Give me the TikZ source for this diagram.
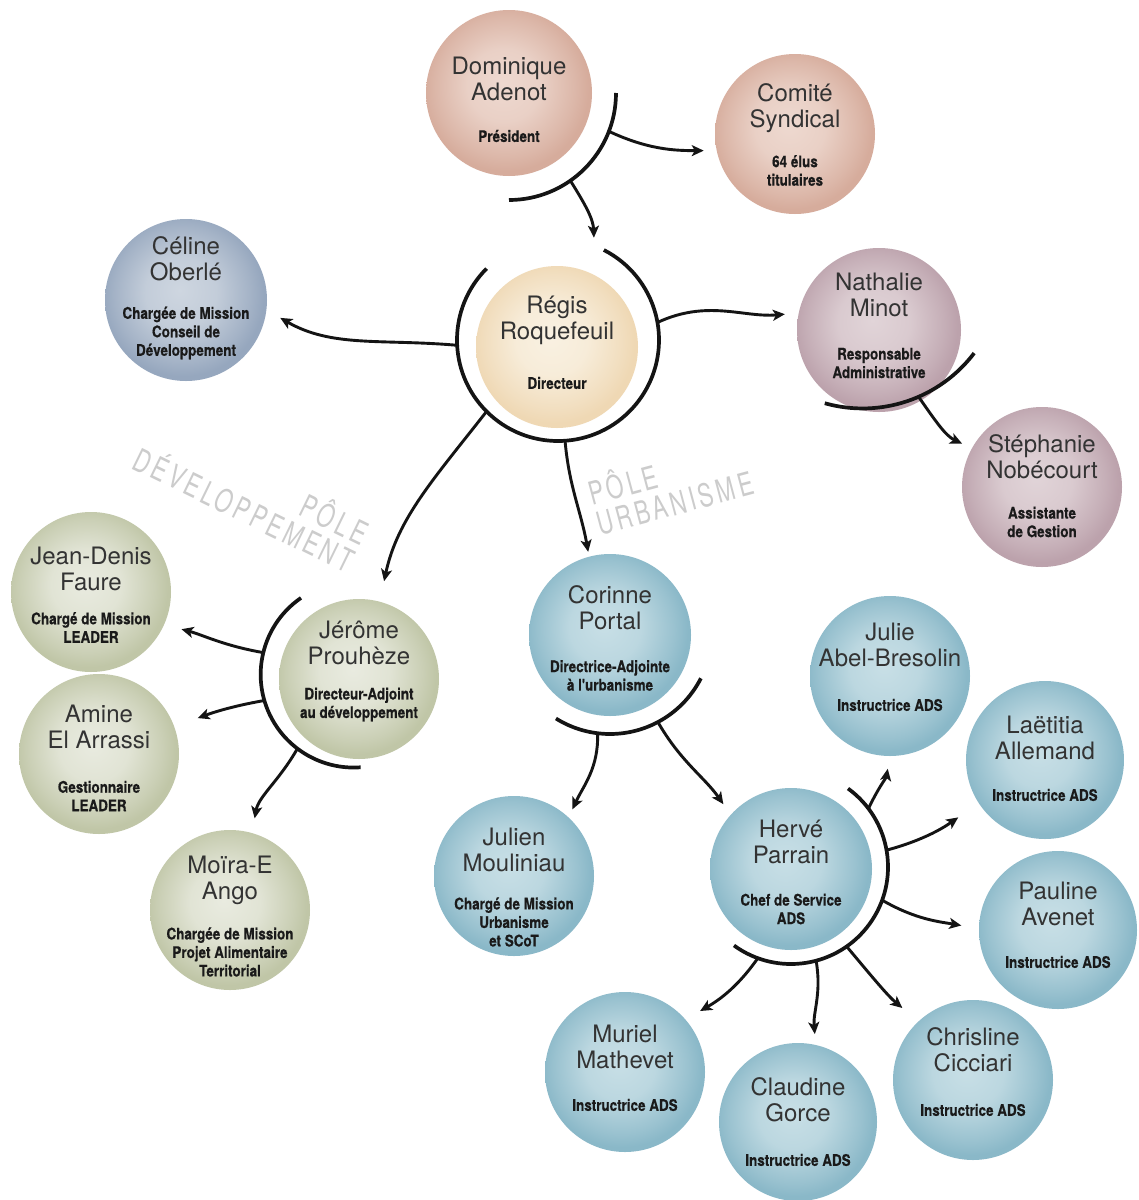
\documentclass[tikz,border=0pt]{standalone}
\usepackage{fontspec}
\usepackage{graphicx}
\usetikzlibrary{arrows.meta}
\setmainfont{TeX Gyre Heros}
\newfontfamily\heros{TeX Gyre Heros}
\newfontfamily\heroscond{TeX Gyre Heros}[FakeStretch=0.84,FakeBold=0.5]
\newfontfamily\polefont{TeX Gyre Heros}[FakeStretch=0.7,LetterSpace=11]

\definecolor{namegray}{HTML}{333333}
\definecolor{rolegray}{HTML}{1A1A1A}
\definecolor{peachIn}{HTML}{EED9D0}
\definecolor{peachOut}{HTML}{D6AC9C}
\definecolor{steelIn}{HTML}{CED6E0}
\definecolor{steelOut}{HTML}{96A7BE}
\definecolor{creamIn}{HTML}{F9F1E2}
\definecolor{creamOut}{HTML}{EFD8B4}
\definecolor{mauveIn}{HTML}{E1D4D8}
\definecolor{mauveOut}{HTML}{BCA2AC}
\definecolor{oliveIn}{HTML}{E9EBE0}
\definecolor{oliveOut}{HTML}{C0C6A7}
\definecolor{aquaIn}{HTML}{C8DFE6}
\definecolor{aquaOut}{HTML}{8AB8C8}

\newcommand\mkshade[3]{\pgfdeclareradialshading{#1}{\pgfpoint{-2bp}{3bp}}{color(0bp)=(#2); color(11bp)=(#2!80!#3); color(21bp)=(#3!75!#2); color(25bp)=(#3); color(50bp)=(#3)}}
\mkshade{shpeach}{peachIn}{peachOut}
\mkshade{shsteel}{steelIn}{steelOut}
\mkshade{shcream}{creamIn}{creamOut}
\mkshade{shmauve}{mauveIn}{mauveOut}
\mkshade{sholive}{oliveIn}{oliveOut}
\mkshade{shaqua}{aquaIn}{aquaOut}

% id, x, y, diameter, shading, name, name y, role, role y
\newcommand\pers[9]{%
  \node[persn, minimum size=#4pt, shading=#5] (#1) at (#2,#3) {};
  \node[nm] (#1-n) at (#2,#7) {#6};
  \node[rl] (#1-r) at (#2,#9) {#8};
}

\begin{document}
\begin{tikzpicture}[x=1pt,y=-1pt,
  persn/.style={circle,inner sep=0pt,outer sep=0pt},
  ringn/.style={circle,inner sep=0pt,outer sep=0pt,draw=none},
  nm/.style={font={\heros\fontsize{24}{26}\selectfont}, text=namegray, align=center, inner sep=0pt},
  rl/.style={font={\heroscond\bfseries\fontsize{16}{18.5}\selectfont}, text=rolegray, align=center, inner sep=0pt},
  arcl/.style={line width=3.7pt, draw=black!92},
  arr/.style={line width=2.9pt, draw=black!92, -{Stealth[length=12pt,width=11pt,inset=3pt]}, shorten >=#1pt},
  arr/.default=0,
  pole/.style={font={\polefont\fontsize{32}{31}\selectfont}, text=black!20, inner sep=0pt}
]
\fill[white] (0,0) rectangle (1139,1200);
\useasboundingbox (0,0) rectangle (1139,1200);

% pole labels
\node[pole, align=right, rotate=-26] (poledev) at (252,494) {PÔLE\\DÉVELOPPEMENT};
\node[pole, align=left, rotate=15] (poleurb) at (670,486) {PÔLE\\URBANISME};

% people
\pers{dom}{509}{93}{166}{shpeach}{Dominique\\Adenot}{79}{Président}{136}
\pers{com}{795}{134}{160}{shpeach}{Comité\\Syndical}{108}{64 élus\\titulaires}{170.5}
\pers{cel}{186}{300}{162}{shsteel}{Céline\\Oberlé}{258.5}{Chargée de Mission\\Conseil de\\Développement}{333}
\pers{reg}{557}{347}{162}{shcream}{Régis\\Roquefeuil}{320.5}{Directeur}{383}
\pers{nat}{879}{330}{164}{shmauve}{Nathalie\\Minot}{295}{Responsable\\Administrative}{363}
\pers{ste}{1042}{487}{160}{shmauve}{Stéphanie\\Nobécourt}{457}{Assistante\\de Gestion}{522}
\pers{jd}{91}{592}{160}{sholive}{Jean-Denis\\Faure}{569}{Chargé de Mission\\LEADER}{627.5}
\pers{ami}{99}{754}{160}{sholive}{Amine\\El Arrassi}{726.5}{Gestionnaire\\LEADER}{796}
\pers{moi}{230}{910}{160}{sholive}{Moïra-E\\Ango}{880}{Chargée de Mission\\Projet Alimentaire\\Territorial}{952}
\pers{jer}{359}{679}{160}{sholive}{Jérôme\\Prouhèze}{642.5}{Directeur-Adjoint\\au développement}{704.5}
\pers{cor}{610}{635}{162}{shaqua}{Corinne\\Portal}{608}{Directrice-Adjointe\\à l'urbanisme}{675.5}
\pers{jul}{514}{876}{160}{shaqua}{Julien\\Mouliniau}{849.5}{Chargé de Mission\\Urbanisme\\et SCoT}{922}
\pers{her}{791}{869}{162}{shaqua}{Hervé\\Parrain}{841.5}{Chef de Service\\ADS}{909}
\pers{jab}{890}{676}{160}{shaqua}{Julie\\Abel-Bresolin}{645}{Instructrice ADS}{705}
\pers{lae}{1045}{760}{158}{shaqua}{Laëtitia\\Allemand}{737.5}{Instructrice ADS}{795}
\pers{pau}{1058}{930}{158}{shaqua}{Pauline\\Avenet}{903.5}{Instructrice ADS}{962}
\pers{mur}{625}{1072}{160}{shaqua}{Muriel\\Mathevet}{1046.5}{Instructrice ADS}{1105}
\pers{cla}{798}{1122}{158}{shaqua}{Claudine\\Gorce}{1099.5}{Instructrice ADS}{1160}
\pers{chr}{973}{1080}{160}{shaqua}{Chrisline\\Cicciari}{1050}{Instructrice ADS}{1110}

% rings (invisible guides for arcs)
\node[ringn, minimum size=214pt] (domR) at (509,93) {};
\node[ringn, minimum size=202pt] (regR) at (558,340) {};
\node[ringn, minimum size=280pt] (natR) at (861,268) {};
\node[ringn, minimum size=186pt] (jerR) at (353,675) {};
\node[ringn, minimum size=204pt] (corR) at (610,632) {};
\node[ringn, minimum size=194pt] (herR) at (791,867) {};

% arcs
\draw[arcl] (domR.-90) arc[start angle=-90, end angle=0, radius=107pt];
\draw[arcl] (regR.135) arc[start angle=135, end angle=423, radius=101pt];
\draw[arcl] (natR.-105.7) arc[start angle=-105.7, end angle=-37.2, radius=140pt];
\draw[arcl] (jerR.124.5) arc[start angle=124.5, end angle=274.3, radius=93pt];
\draw[arcl] (corR.-122) arc[start angle=-122, end angle=-27, radius=102pt];
\draw[arcl] (herR.-126) arc[start angle=-126, end angle=54, radius=97pt];

% connectors
\draw[arr=13] (domR.-21) to[out=-25,in=180] (com.192);
\draw[arr=8] (domR.-55) to[out=-58,in=92] (regR.69);
\draw[arr=16] (regR.183) to[out=175,in=-30] (cel.-7);
\draw[arr=14] (regR.10) to[out=25,in=185] (nat.168);
\draw[arr=21] (regR.225) to[out=232,in=78] (jer.75);
\draw[arr=5] (regR.-86) to[out=-85,in=100] (cor.105);
\draw[arr=11] (natR.-66) to[out=-55,in=155] (ste.151);
\draw[arr=18] (jerR.166) to[out=170,in=-15] (jd.-24);
\draw[arr=25] (jerR.196) to[out=190,in=20] (ami.20);
\draw[arr=15] (jerR.233) to[out=240,in=80] (moi.74);
\draw[arr=9] (corR.-97) to[out=-88,in=65] (jul.47);
\draw[arr=13] (corR.-62) to[out=-60,in=125] (her.138);
\draw[arr=13] (herR.37) to[out=65,in=-100] (jab.-90);
\draw[arr=25] (herR.10) to[out=15,in=215] (lae.213);
\draw[arr=18] (herR.-20) to[out=-30,in=170] (pau.179);
\draw[arr=17] (herR.-110) to[out=-125,in=30] (mur.41);
\draw[arr=11] (herR.-75) to[out=-80,in=95] (cla.77);
\draw[arr=21] (herR.-55) to[out=-50,in=140] (chr.133);
\end{tikzpicture}
\end{document}
